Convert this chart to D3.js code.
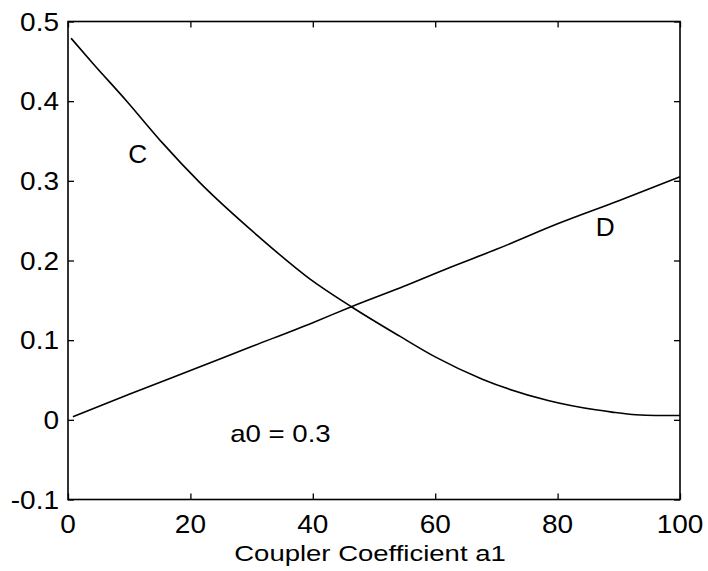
<!DOCTYPE html>
<html>
<head>
<meta charset="utf-8">
<script src="https://cdn.jsdelivr.net/npm/d3@7"></script>
<style>
  body { margin: 0; background: #fff; }
  text { font-family: "Liberation Sans", Arial, sans-serif; fill: #000; }
</style>
</head>
<body>
<script>
const width = 708;
const height = 571;
const margin = { top: 21.5, right: 28, bottom: 71.5, left: 68 };

// curve C (falls) and curve D (rises)
const cX = [0.5, 4, 9.6, 15.5, 21.5, 31.3, 39.5, 46.3, 54.2, 60, 67.7, 78.6, 86.2, 88.9, 92.8, 96, 100];
const cY = [0.479, 0.448, 0.4, 0.347, 0.298, 0.229, 0.177, 0.142, 0.105, 0.079, 0.051, 0.024, 0.0126, 0.0097, 0.0063, 0.0054, 0.0054];
const dX = [0.8, 10, 20, 30, 40, 46.3, 55, 62.3, 70, 80, 90, 100];
const dY = [0.004, 0.032, 0.062, 0.092, 0.122, 0.142, 0.168, 0.191, 0.214, 0.246, 0.275, 0.305];

const xTicks = [0, 20, 40, 60, 80, 100];
const yTicks = [-0.1, 0, 0.1, 0.2, 0.3, 0.4, 0.5];

const svg = d3.select("body").append("svg")
  .attr("width", width)
  .attr("height", height);

const iw = width - margin.left - margin.right;
const ih = height - margin.top - margin.bottom;

const g = svg.append("g").attr("transform", `translate(${margin.left},${margin.top})`);

const x = d3.scaleLinear().domain([0, 100]).range([0, iw]);
const y = d3.scaleLinear().domain([-0.1, 0.5]).range([ih, 0]);

// inward ticks on all four sides
const tick = 6;
g.append("g").attr("transform", `translate(0,${ih})`)
  .call(d3.axisBottom(x).tickValues(xTicks).tickSize(-tick).tickFormat(""));
g.append("g")
  .call(d3.axisTop(x).tickValues(xTicks).tickSize(-tick).tickFormat(""));
g.append("g")
  .call(d3.axisLeft(y).tickValues(yTicks).tickSize(-tick).tickFormat(""));
g.append("g").attr("transform", `translate(${iw},0)`)
  .call(d3.axisRight(y).tickValues(yTicks).tickSize(-tick).tickFormat(""));
g.selectAll(".domain").remove();
g.selectAll(".tick line").attr("stroke", "#000").attr("stroke-width", 1.3);

g.append("rect")
  .attr("width", iw).attr("height", ih)
  .attr("fill", "none").attr("stroke", "#000").attr("stroke-width", 1.6);

// tick labels
const sx = 1.12;
g.selectAll(".xl").data(xTicks).join("text")
  .attr("class", "xl")
  .attr("transform", (d) => `translate(${x(d)},${ih + 33.5}) scale(${sx},1)`)
  .attr("text-anchor", "middle")
  .attr("font-size", 25)
  .text((d) => d);

g.selectAll(".yl").data(yTicks).join("text")
  .attr("class", "yl")
  .attr("transform", (d) => `translate(-9,${y(d) + 9}) scale(${sx},1)`)
  .attr("text-anchor", "end")
  .attr("font-size", 25)
  .text((d) => String(+d.toFixed(1)));

// axis title
svg.append("text")
  .attr("transform", `translate(${margin.left + iw / 2 - 4},${561}) scale(1.25,1)`)
  .attr("text-anchor", "middle")
  .attr("font-size", 22)
  .text("Coupler Coefficient a1");

// curves
const line = d3.line().curve(d3.curveMonotoneX).x((d) => x(d[0])).y((d) => y(d[1]));
g.append("path")
  .datum(cX.map((v, i) => [v, cY[i]]))
  .attr("d", line)
  .attr("fill", "none").attr("stroke", "#000").attr("stroke-width", 1.6);
g.append("path")
  .datum(dX.map((v, i) => [v, dY[i]]))
  .attr("d", line)
  .attr("fill", "none").attr("stroke", "#000").attr("stroke-width", 1.6);

// curve labels
g.append("text")
  .attr("transform", `translate(${x(11.4)},${y(0.322)}) scale(1.05,1)`)
  .attr("text-anchor", "middle").attr("font-size", 25).text("C");
g.append("text")
  .attr("transform", `translate(${x(87.8)},${y(0.231)}) scale(1.05,1)`)
  .attr("text-anchor", "middle").attr("font-size", 25).text("D");
g.append("text")
  .attr("transform", `translate(${x(26.5)},${y(-0.028)}) scale(1.15,1)`)
  .attr("font-size", 24).text("a0 = 0.3");
</script>
</body>
</html>
